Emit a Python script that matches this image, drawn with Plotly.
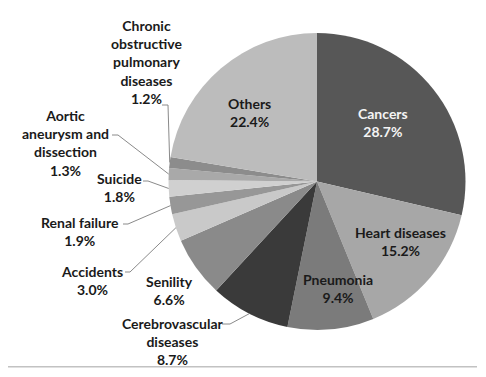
import math
import plotly.graph_objects as go

# ---- data ----
causes = ["Cancers", "Heart diseases", "Pneumonia", "Cerebrovascular diseases",
          "Senility", "Accidents", "Renal failure", "Suicide",
          "Aortic aneurysm and dissection", "Chronic obstructive pulmonary diseases", "Others"]
shares = [28.7, 15.2, 9.4, 8.7, 6.6, 3.0, 1.9, 1.8, 1.3, 1.2, 22.4]
label_text = ["Cancers", "Heart diseases", "Pneumonia", "Cerebrovascular<br>diseases",
              "Senility", "Accidents", "Renal failure", "Suicide",
              "Aortic<br>aneurysm and<br>dissection", "Chronic<br>obstructive<br>pulmonary<br>diseases", "Others"]

# ---- style / layout ----
W, H = 486, 377
colors = ["#575757", "#a7a7a7", "#7b7b7b", "#3a3a3a", "#8a8a8a", "#c9c9c9",
          "#979797", "#d0d0d0", "#a9a9a9", "#8c8c8c", "#bcbcbc"]
CX, CY, R = 317, 181.5, 148.5  # pie centre / radius in pixels
# label block centres (pixels)
label_pos = [(383, 122), (400, 242), (338, 288), (173, 341), (169, 290), (92, 280),
             (80, 231), (119, 188), (65, 143.5), (146, 62), (249, 112)]
label_color = ["#f4f4f4"] + ["#1a1a1a"] * 10
# leader lines: start point, elbow point (pixels); None = no leader
leaders = [None, None, None, ((222, 324), (230, 324)), None, ((125, 272), (130, 272)),
           ((123, 224), (128, 224)), ((143, 181), (148, 181)), ((112, 135), (118, 135)),
           ((162, 105), (168, 105)), None]

def px2paper(x, y):
    return x / W, 1 - y / H

fig = go.Figure(go.Pie(
    labels=causes, values=shares, sort=False, direction="clockwise", rotation=0,
    marker=dict(colors=colors, line=dict(width=0)),
    textinfo="none", hoverinfo="label+value", showlegend=False,
    domain=dict(x=[(CX - R) / W, (CX + R) / W], y=[1 - (CY + R) / H, 1 - (CY - R) / H]),
))

total = sum(shares)
cum = 0
annotations, shapes = [], []
for i, v in enumerate(shares):
    mid = (cum + v / 2) / total * 2 * math.pi
    cum += v
    ex, ey = CX + R * math.sin(mid), CY - R * math.cos(mid)
    lx, ly = label_pos[i]
    xp, yp = px2paper(lx, ly)
    annotations.append(dict(
        x=xp, y=yp, xref="paper", yref="paper", showarrow=False,
        xanchor="center", yanchor="middle",
        text=f"{label_text[i]}<br>{v:.1f}%", align="center",
        font=dict(family="Lato", size=14, color=label_color[i], weight="bold"),
    ))
    if leaders[i]:
        (sx, sy), (bx, by) = leaders[i]
        p = [px2paper(sx, sy), px2paper(bx, by), px2paper(ex, ey)]
        shapes.append(dict(type="path", xref="paper", yref="paper",
                           path=f"M {p[0][0]},{p[0][1]} L {p[1][0]},{p[1][1]} L {p[2][0]},{p[2][1]}",
                           line=dict(color="#8a8a8a", width=1)))

# bottom rule (thin filled strip)
shapes.append(dict(type="rect", xref="paper", yref="paper",
                   x0=8 / W, x1=477 / W, y0=1 - 367.5 / H, y1=1 - 366 / H,
                   fillcolor="#c2c2c2", line=dict(width=0), layer="above"))

fig.update_layout(width=W, height=H, margin=dict(l=0, r=0, t=0, b=0),
                  paper_bgcolor="white", plot_bgcolor="white",
                  annotations=annotations, shapes=shapes)
fig.write_html("out.html", config={"displayModeBar": False},
               post_script="document.body.style.margin='0';document.body.style.overflow='hidden';")
